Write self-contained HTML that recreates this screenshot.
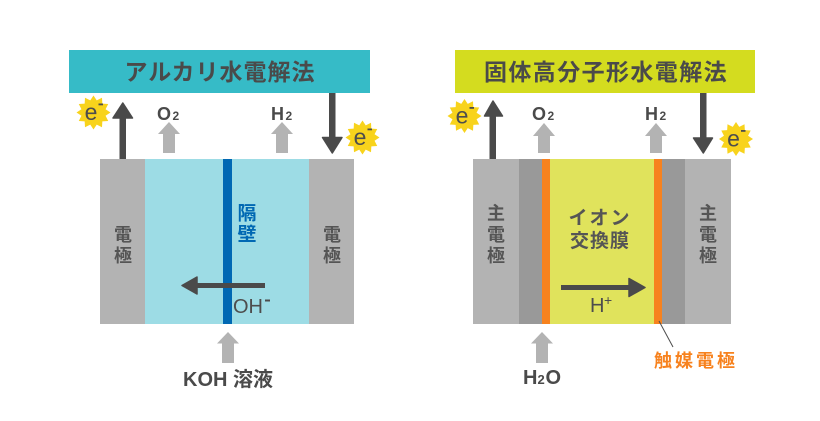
<!DOCTYPE html>
<html><head><meta charset="utf-8"><style>
html,body{margin:0;padding:0;background:#fff;}
svg{display:block;}
text{font-family:"Liberation Sans","Noto Sans CJK JP",sans-serif;}
</style></head><body>
<svg width="820" height="421" viewBox="0 0 820 421" xmlns="http://www.w3.org/2000/svg">
<rect width="820" height="421" fill="#fff"/>
<defs>
<polygon id="star" fill="#f8d31c" points="0,-17 3.24,-12.07 8.5,-14.72 8.84,-8.84 14.72,-8.5 12.07,-3.24 17,0 12.07,3.24 14.72,8.5 8.84,8.84 8.5,14.72 3.24,12.07 0,17 -3.24,12.07 -8.5,14.72 -8.84,8.84 -14.72,8.5 -12.07,3.24 -17,0 -12.07,-3.24 -14.72,-8.5 -8.84,-8.84 -8.5,-14.72 -3.24,-12.07"/>
</defs>

<!-- ===== LEFT: Alkaline ===== -->
<rect x="69" y="50" width="301" height="43" fill="#36bbc7"/>
<text x="220" y="72" text-anchor="middle" dominant-baseline="central" font-size="23" font-weight="bold" letter-spacing="1" fill="#4a4a4a">アルカリ水電解法</text>

<!-- cell -->
<rect x="100" y="159" width="45" height="165" fill="#b3b3b3"/>
<rect x="145" y="159" width="164" height="165" fill="#9ddce5"/>
<rect x="309" y="159" width="45" height="165" fill="#b3b3b3"/>
<rect x="223" y="159" width="9" height="165" fill="#0068b3"/>

<g font-size="18" font-weight="bold" fill="#555" text-anchor="middle" dominant-baseline="central">
<text x="123" y="235">電</text>
<text x="123" y="256">極</text>
<text x="332" y="235">電</text>
<text x="332" y="256">極</text>
</g>
<text x="247" y="214" text-anchor="middle" dominant-baseline="central" font-size="19" font-weight="bold" fill="#0068b3">隔</text>
<text x="247" y="235" text-anchor="middle" dominant-baseline="central" font-size="19" font-weight="bold" fill="#0068b3">壁</text>

<!-- OH- arrow -->
<rect x="194" y="283" width="71" height="5" fill="#4a4a4a"/>
<polygon points="182,285.5 197,277 197,294" fill="#4a4a4a" stroke="#4a4a4a" stroke-width="1.5" stroke-linejoin="round"/>
<text x="233" y="313" font-size="20" fill="#4d4d4d">OH</text>
<rect x="265" y="299.5" width="5" height="2" fill="#4d4d4d"/>

<!-- top arrows left -->
<rect x="119.5" y="116" width="6.5" height="43" fill="#4a4a4a"/>
<polygon points="122.8,103 113,118 132.5,118" fill="#4a4a4a" stroke="#4a4a4a" stroke-width="1.5" stroke-linejoin="round"/>
<rect x="329" y="93" width="6.5" height="46" fill="#4a4a4a"/>
<polygon points="332.3,153 322.5,137.5 342,137.5" fill="#4a4a4a" stroke="#4a4a4a" stroke-width="1.5" stroke-linejoin="round"/>

<!-- O2 / H2 left -->
<text x="157" y="120" font-size="18" font-weight="bold" fill="#4a4a4a">O</text>
<text x="172.5" y="120" font-size="12" font-weight="bold" fill="#4a4a4a">2</text>
<rect x="163" y="133" width="12" height="20" fill="#b3b3b3"/>
<polygon points="169,122 158,134 180,134" fill="#b3b3b3"/>
<text x="271" y="120" font-size="18" font-weight="bold" fill="#4a4a4a">H</text>
<text x="285.5" y="120" font-size="12" font-weight="bold" fill="#4a4a4a">2</text>
<rect x="276" y="133" width="12" height="20" fill="#b3b3b3"/>
<polygon points="282,122 271,134 293,134" fill="#b3b3b3"/>

<!-- stars left -->
<use href="#star" transform="translate(93.5,112.5)"/>
<text x="91" y="120" text-anchor="middle" font-size="23" fill="#4d4d4d">e</text>
<rect x="98.5" y="103.5" width="4.5" height="1.8" fill="#4d4d4d"/>
<use href="#star" transform="translate(362.5,137.5)"/>
<text x="360" y="145" text-anchor="middle" font-size="23" fill="#4d4d4d">e</text>
<rect x="367.5" y="128.5" width="4.5" height="1.8" fill="#4d4d4d"/>

<!-- KOH -->
<rect x="222" y="342" width="12" height="21" fill="#b3b3b3"/>
<polygon points="228,332 217,343.5 239,343.5" fill="#b3b3b3"/>
<text x="228" y="386" text-anchor="middle" font-size="20" font-weight="bold" fill="#4a4a4a">KOH 溶液</text>

<!-- ===== RIGHT: PEM ===== -->
<rect x="455" y="50" width="300" height="43" fill="#d4dc1f"/>
<text x="606" y="72" text-anchor="middle" dominant-baseline="central" font-size="23" font-weight="bold" letter-spacing="1.4" fill="#4a4a4a">固体高分子形水電解法</text>

<rect x="473" y="159" width="46" height="165" fill="#b3b3b3"/>
<rect x="519" y="159" width="23" height="165" fill="#999999"/>
<rect x="542" y="159" width="8" height="165" fill="#f7821e"/>
<rect x="550" y="159" width="104" height="165" fill="#e0e35c"/>
<rect x="654" y="159" width="8" height="165" fill="#f7821e"/>
<rect x="662" y="159" width="23" height="165" fill="#999999"/>
<rect x="685" y="159" width="46" height="165" fill="#b3b3b3"/>

<g font-size="18" font-weight="bold" fill="#555" text-anchor="middle" dominant-baseline="central">
<text x="496" y="213.5">主</text>
<text x="496" y="235">電</text>
<text x="496" y="256">極</text>
<text x="708" y="213.5">主</text>
<text x="708" y="235">電</text>
<text x="708" y="256">極</text>
</g>

<text x="600" y="218.5" text-anchor="middle" dominant-baseline="central" font-size="19" font-weight="bold" letter-spacing="2" fill="#555">イオン</text>
<text x="600" y="241.5" text-anchor="middle" dominant-baseline="central" font-size="19" font-weight="bold" letter-spacing="1" fill="#555">交換膜</text>

<!-- H+ arrow -->
<rect x="561" y="285" width="69" height="5" fill="#4a4a4a"/>
<polygon points="645,287.5 629,278.5 629,296.5" fill="#4a4a4a" stroke="#4a4a4a" stroke-width="1.5" stroke-linejoin="round"/>
<text x="590" y="312" font-size="20" fill="#4d4d4d">H</text>
<text x="604" y="305" font-size="14" fill="#4d4d4d">+</text>

<!-- top arrows right -->
<rect x="489.5" y="114" width="6.5" height="45" fill="#4a4a4a"/>
<polygon points="493,101 484.5,116 502.5,116" fill="#4a4a4a" stroke="#4a4a4a" stroke-width="1.5" stroke-linejoin="round"/>
<rect x="700" y="93" width="6.5" height="46" fill="#4a4a4a"/>
<polygon points="703.3,153 693.5,138 712.5,138" fill="#4a4a4a" stroke="#4a4a4a" stroke-width="1.5" stroke-linejoin="round"/>

<text x="532" y="120" font-size="18" font-weight="bold" fill="#4a4a4a">O</text>
<text x="547.5" y="120" font-size="12" font-weight="bold" fill="#4a4a4a">2</text>
<rect x="538" y="135" width="12" height="18" fill="#b3b3b3"/>
<polygon points="544,123 533,136 555,136" fill="#b3b3b3"/>
<text x="645" y="120" font-size="18" font-weight="bold" fill="#4a4a4a">H</text>
<text x="659.5" y="120" font-size="12" font-weight="bold" fill="#4a4a4a">2</text>
<rect x="650" y="135" width="12" height="18" fill="#b3b3b3"/>
<polygon points="656,123 645,136 667,136" fill="#b3b3b3"/>

<use href="#star" transform="translate(464.5,116)"/>
<text x="462" y="123.5" text-anchor="middle" font-size="23" fill="#4d4d4d">e</text>
<rect x="469.5" y="107" width="4.5" height="1.8" fill="#4d4d4d"/>
<use href="#star" transform="translate(736,139)"/>
<text x="733.5" y="146.5" text-anchor="middle" font-size="23" fill="#4d4d4d">e</text>
<rect x="741" y="130" width="4.5" height="1.8" fill="#4d4d4d"/>

<!-- H2O -->
<rect x="536" y="342" width="12" height="21" fill="#b3b3b3"/>
<polygon points="542,332 531,343.5 553,343.5" fill="#b3b3b3"/>
<text x="523" y="384" font-size="20" font-weight="bold" fill="#4a4a4a">H</text>
<text x="537.5" y="384" font-size="13" font-weight="bold" fill="#4a4a4a">2</text>
<text x="545.5" y="384" font-size="20" font-weight="bold" fill="#4a4a4a">O</text>

<!-- catalyst label -->
<line x1="659" y1="321" x2="673" y2="347" stroke="#4d4d4d" stroke-width="1"/>
<text x="696" y="361" text-anchor="middle" dominant-baseline="central" font-size="18" font-weight="bold" letter-spacing="3" fill="#f7821e">触媒電極</text>
</svg>
</body></html>
